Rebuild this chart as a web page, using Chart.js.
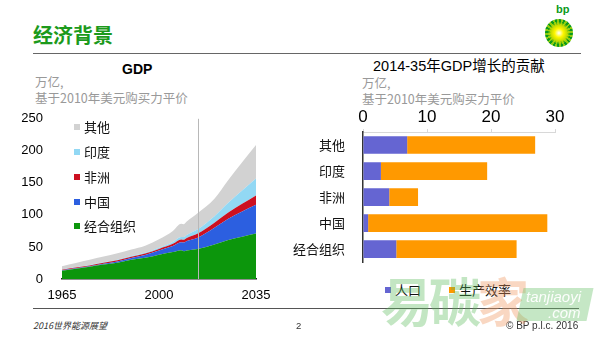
<!DOCTYPE html>
<html>
<head>
<meta charset="utf-8">
<script src="https://cdn.jsdelivr.net/npm/chart.js@4.4.1/dist/chart.umd.min.js"></script>
<style>
  html, body { margin:0; padding:0; background:#fff; }
  body { width:600px; height:337px; position:relative; overflow:hidden;
         font-family:"Liberation Sans","Noto Sans CJK SC",sans-serif; }
  .abs { position:absolute; white-space:nowrap; }
  #title { left:33px; top:22px; font-size:20px; font-weight:bold; color:#1c9a1c;
           font-family:"Noto Sans CJK SC",sans-serif; line-height:26px; }
  #topline { left:33px; top:53px; width:548px; height:0; border-top:1.5px solid #666; }
  #footline { left:33px; top:307.5px; width:546px; height:0; border-top:1.5px solid #555; }
  .sub { color:#999; font-size:12.5px; font-family:"Noto Sans CJK SC",sans-serif; line-height:15px; }
  .ctitle { font-size:14px; font-weight:bold; color:#000; line-height:16px; }
  canvas { position:absolute; }
  .leg { position:absolute; font-size:13px; color:#111; font-family:"Noto Sans CJK SC",sans-serif; line-height:16px; }
  .leg i { display:inline-block; width:6px; height:6px; margin-right:4px; vertical-align:middle; position:relative; top:-1px; }
  .foot { font-size:9.5px; color:#333; line-height:12px; }
  #logo { left:545px; top:19px; width:28px; height:28px; border-radius:50%;
          background: radial-gradient(circle, #ffffff 0%, #fff700 22%, #c8dc00 40%, rgba(0,150,0,0) 58%),
                      repeating-conic-gradient(#0a9a1a 0deg 9deg, #8ccc10 9deg 18deg); }
  #bp { left:556px; top:3px; font-size:11px; font-weight:bold; color:#0a9a1a; }
  .wm { font-family:"Noto Sans CJK SC",sans-serif; font-weight:bold; font-size:52px; line-height:52px; }
  #wmbox { left:520px; top:288px; width:70px; height:33px; background:rgba(110,195,110,0.4);
           transform:skewX(-12deg); }
  .wmt { color:rgba(255,255,255,0.95); font-style:italic; font-size:15px; }
</style>
</head>
<body>
<div id="title" class="abs">经济背景</div>
<div id="topline" class="abs"></div>
<div id="bp" class="abs">bp</div>
<div id="logo" class="abs"></div>

<div class="abs ctitle" style="left:122px; top:61px;">GDP</div>
<div class="abs sub" style="left:35px; top:74px;">万亿,</div>
<div class="abs sub" style="left:35px; top:90px;">基于2010年美元购买力平价</div>

<div class="abs ctitle" style="left:373px; top:58px; font-weight:normal; font-size:14.5px; font-family:'Liberation Sans','Noto Sans CJK SC',sans-serif;">2014-35年GDP增长的贡献</div>
<div class="abs sub" style="left:362px; top:75px;">万亿,</div>
<div class="abs sub" style="left:362px; top:91px;">基于2010年美元购买力平价</div>

<canvas id="gdp" width="280" height="210" style="left:0px; top:100px;"></canvas>
<canvas id="contrib" width="310" height="180" style="left:290px; top:100px;"></canvas>

<div id="legL"></div>
<div id="legR"></div>

<div id="footline" class="abs"></div>
<div class="abs foot" style="left:33px; top:320px; font-style:italic; font-family:'Noto Sans CJK SC',sans-serif; font-size:9px;">2016世界能源展望</div>
<div class="abs foot" style="left:296px; top:320px;">2</div>
<div class="abs foot" style="left:506px; top:320px; font-size:10px;">© BP p.l.c. 2016</div>

<!-- watermark -->
<div class="abs wm" style="left:381px; top:274px; color:rgba(90,185,90,0.36);">易</div>
<div class="abs wm" style="left:429px; top:274px; color:rgba(90,185,90,0.36);">碳</div>
<div class="abs wm" style="left:477px; top:274px; color:rgba(240,150,95,0.38);">家</div>
<div id="wmbox" class="abs"></div>
<div class="abs wmt" style="left:526px; top:288px;">tanjiaoyi</div>
<div class="abs wmt" style="left:548px; top:304px;">.com</div>

<script>
// ---------- Data ----------
const years        = [1965,1970,1975,1980,1985,1990,1995,2000,2005,2008,2009,2010,2014,2020,2025,2030,2035];
const oecd         = [13,16,19,22.5,25.5,30,33,38,42,45,43.5,44.5,47,54,61,66,71];
const china        = [0.6,0.8,1.0,1.3,2.0,2.8,4.5,6.5,9.5,12.5,13.5,14.8,17.5,26,33,39.5,45];
const africa       = [0.8,1.0,1.2,1.5,1.7,1.9,2.1,2.5,3.4,4.2,4.3,4.6,6.5,7.8,9.8,12,14.5];
const india        = [0.4,0.5,0.6,0.7,0.9,1.1,1.4,1.8,3,4,4.3,4.8,6.5,10,15,20.5,26.5];
const other        = [5.2,6.7,8.2,9,9.9,10.2,11,13.2,17,20.5,20,21,25.5,27.5,35.5,44,52];
const xTickYears   = [1965,2000,2035];
const yTicksGDP    = [0,50,100,150,200,250];
const projectionYear = 2014;

const regions      = ['其他','印度','非洲','中国','经合组织'];
const population   = [6.9,2.8,4.1,0.8,5.2];
const productivity = [20.0,16.6,4.5,28.0,18.8];
const xTicksContrib = [0,10,20,30];

// ---------- Setup ----------
const FONT = '"Liberation Sans","Noto Sans CJK SC",sans-serif';
Chart.defaults.font.family = FONT;
Chart.defaults.color = '#000';
Chart.defaults.animation = false;

const pts = arr => arr.map((v,i) => ({x: years[i], y: v}));
const areaSets = [
  {label:'经合组织', data:pts(oecd),   backgroundColor:'#0c960c', fill:'origin'},
  {label:'中国',     data:pts(china),  backgroundColor:'#2c5fe0', fill:'-1'},
  {label:'非洲',     data:pts(africa), backgroundColor:'#cc1020', fill:'-1'},
  {label:'印度',     data:pts(india),  backgroundColor:'#92d8f4', fill:'-1'},
  {label:'其他',     data:pts(other),  backgroundColor:'#d2d2d2', fill:'-1'}
].map(d => Object.assign(d, {borderWidth:0, pointRadius:0, cubicInterpolationMode:'monotone'}));

const vline = {
  id:'vline',
  afterDatasetsDraw(chart){
    const {ctx, chartArea:a, scales:{x}} = chart;
    const px = Math.round(x.getPixelForValue(projectionYear)) + 0.5;
    ctx.save();
    ctx.strokeStyle = '#b8b8b8'; ctx.lineWidth = 1;
    ctx.beginPath(); ctx.moveTo(px, a.top); ctx.lineTo(px, a.bottom); ctx.stroke();
    ctx.restore();
  }
};

const gdpChart = new Chart(document.getElementById('gdp'), {
  type:'line',
  data:{datasets:areaSets},
  options:{
    responsive:false, devicePixelRatio:1,
    layout:{padding:{top:15, right:24, left:0, bottom:0}},
    plugins:{legend:{display:false}, tooltip:{enabled:false}},
    elements:{line:{tension:0}},
    scales:{
      x:{type:'linear', min:1965, max:2035,
         afterBuildTicks(s){ s.ticks = xTickYears.map(v=>({value:v})); },
         afterFit(s){ s.height = 31; },
         grid:{display:false}, border:{display:true, color:'#222', width:1.5},
         ticks:{font:{size:13}, padding:1, maxRotation:0, autoSkip:false,
                callback:v => String(v)}},
      y:{stacked:true, min:0, max:250,
         afterBuildTicks(s){ s.ticks = yTicksGDP.map(v=>({value:v})); },
         afterFit(s){ s.width = 62; },
         grid:{display:false}, border:{display:false},
         ticks:{font:{size:13}, padding:11}}
    }
  },
  plugins:[vline]
});

const contribChart = new Chart(document.getElementById('contrib'), {
  type:'bar',
  data:{labels:regions, datasets:[
    {label:'人口',     data:population,   backgroundColor:'#6565d2'},
    {label:'生产效率', data:productivity, backgroundColor:'#ff9900'}
  ]},
  options:{
    indexAxis:'y', responsive:false, devicePixelRatio:1,
    layout:{padding:{top:0, right:45, left:0, bottom:8}},
    plugins:{legend:{display:false}, tooltip:{enabled:false}},
    datasets:{bar:{categoryPercentage:1, barPercentage:0.68, borderWidth:0}},
    scales:{
      x:{position:'top', stacked:true, min:0, max:30,
         afterBuildTicks(s){ s.ticks = xTicksContrib.map(v=>({value:v})); },
         afterFit(s){ s.height = 32; },
         grid:{display:true, drawOnChartArea:false, tickLength:3, color:'#d8d8d8'},
         border:{display:true, color:'#d8d8d8', width:1},
         ticks:{font:{size:17}, padding:1}},
      y:{stacked:true,
         afterFit(s){ s.width = 73; },
         grid:{display:false}, border:{display:true, color:'#333', width:1.5},
         ticks:{font:{size:13, family:'"Noto Sans CJK SC",sans-serif'}, padding:10, color:'#111'}}
    }
  }
});

// ---------- HTML legends (built from the datasets) ----------
const legL = document.getElementById('legL');
const legTops = [119, 144, 169, 194, 218];
areaSets.slice().reverse().forEach((d,i) => {
  const el = document.createElement('div');
  el.className = 'leg';
  el.style.left = '74px'; el.style.top = legTops[i] + 'px';
  el.innerHTML = '<i style="background:'+d.backgroundColor+'"></i>' + d.label;
  legL.appendChild(el);
});
const legR = document.getElementById('legR');
const legRLeft = [385, 449];
contribChart.data.datasets.forEach((d,i) => {
  const el = document.createElement('div');
  el.className = 'leg';
  el.style.left = legRLeft[i] + 'px'; el.style.top = '282px';
  el.innerHTML = '<i style="background:'+d.backgroundColor+'"></i>' + d.label;
  legR.appendChild(el);
});
</script>
</body>
</html>
